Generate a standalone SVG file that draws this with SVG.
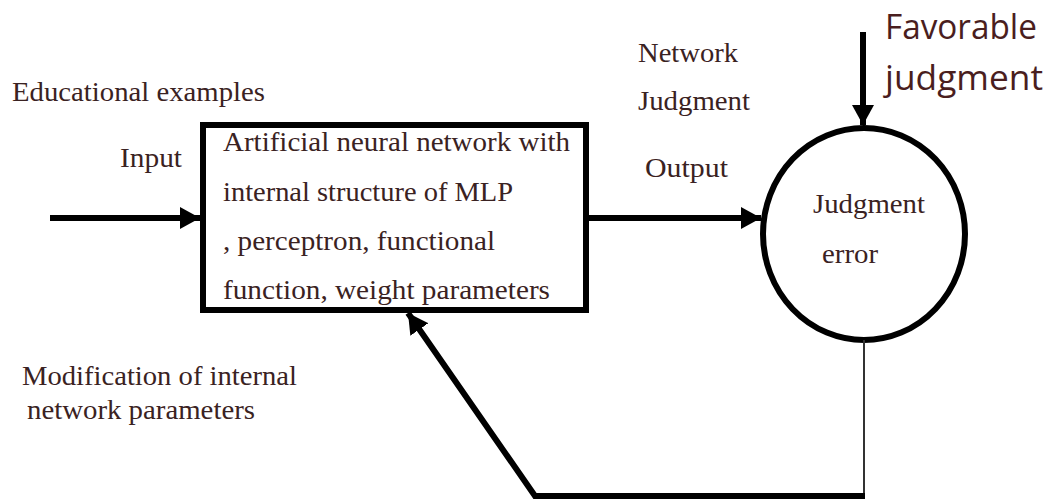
<svg xmlns="http://www.w3.org/2000/svg" width="1052" height="499" viewBox="0 0 1052 499">
  <style>
    .lbl { font-family: "Liberation Serif", "Times New Roman", serif; font-size: 28px; fill: #3a2222; }
    .big { font-family: "Open Sans", "DejaVu Sans", sans-serif; font-size: 35px; fill: #4a1e1e; }
    .thick { stroke: #000; stroke-width: 6; fill: none; }
    .thin { stroke: #333; stroke-width: 2; fill: none; }
  </style>
  <defs>
    <marker id="head" markerUnits="userSpaceOnUse" markerWidth="22" markerHeight="24" refX="20" refY="12" orient="auto">
      <path d="M0,1 L20,12 L0,23 Z" fill="#000"/>
    </marker>
  </defs>
  <rect width="1052" height="499" fill="#fff"/>

  <!-- free labels -->
  <g id="labels">
    <text class="lbl" x="12" y="101" textLength="253" lengthAdjust="spacingAndGlyphs">Educational examples</text>
    <text class="lbl" x="120" y="167" textLength="62" lengthAdjust="spacingAndGlyphs">Input</text>
    <text class="lbl" x="638" y="62" textLength="100" lengthAdjust="spacingAndGlyphs">Network</text>
    <text class="lbl" x="638" y="110" textLength="112" lengthAdjust="spacingAndGlyphs">Judgment</text>
    <text class="lbl" x="645" y="177" textLength="83" lengthAdjust="spacingAndGlyphs">Output</text>
    <text class="lbl" x="22" y="385" textLength="275" lengthAdjust="spacingAndGlyphs">Modification of internal</text>
    <text class="lbl" x="27" y="419" textLength="228" lengthAdjust="spacingAndGlyphs">network parameters</text>
    <text class="big" x="885" y="39" textLength="152" lengthAdjust="spacingAndGlyphs">Favorable</text>
    <text class="big" x="885" y="90" textLength="158" lengthAdjust="spacingAndGlyphs">judgment</text>
  </g>

  <!-- neural network block -->
  <g id="network">
    <rect class="thick" x="203" y="125" width="383" height="185" fill="#fff"/>
    <text class="lbl" x="223" y="151" textLength="347" lengthAdjust="spacingAndGlyphs">Artificial neural network with</text>
    <text class="lbl" x="223" y="201" textLength="290" lengthAdjust="spacingAndGlyphs">internal structure of MLP</text>
    <text class="lbl" x="223" y="250" textLength="272" lengthAdjust="spacingAndGlyphs">, perceptron, functional</text>
    <text class="lbl" x="223" y="299" textLength="327" lengthAdjust="spacingAndGlyphs">function, weight parameters</text>
  </g>

  <!-- error comparison node -->
  <g id="error">
    <ellipse class="thick" cx="864" cy="234" rx="101" ry="106"/>
    <text class="lbl" x="813" y="213" textLength="112" lengthAdjust="spacingAndGlyphs">Judgment</text>
    <text class="lbl" x="822" y="263" textLength="56" lengthAdjust="spacingAndGlyphs">error</text>
  </g>

  <!-- connectors -->
  <g id="connectors">
    <line class="thick" x1="50" y1="218" x2="200" y2="218" marker-end="url(#head)"/>
    <line class="thick" x1="589" y1="218" x2="761" y2="218" marker-end="url(#head)"/>
    <line class="thick" x1="863" y1="32" x2="863" y2="125" marker-end="url(#head)"/>
    <line class="thin" x1="864" y1="340" x2="864" y2="496"/>
    <polyline class="thick" points="865,496 535,496 408,313" stroke-linejoin="miter" marker-end="url(#head)"/>
  </g>
</svg>
